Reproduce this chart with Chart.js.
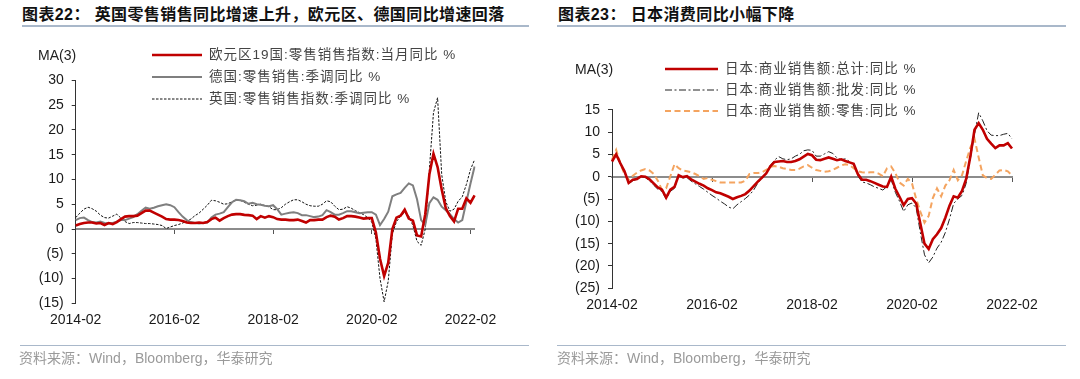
<!DOCTYPE html>
<html><head><meta charset="utf-8">
<script src="https://cdn.jsdelivr.net/npm/chart.js@4/dist/chart.umd.min.js"></script>
<style>
html,body{margin:0;padding:0;background:#fff;}
#root{position:relative;width:1080px;height:379px;overflow:hidden;}
.title{position:absolute;top:5px;font:bold 16px/20px "Liberation Sans","Noto Sans CJK SC",sans-serif;color:#111;white-space:nowrap;letter-spacing:0.4px;}
.rule{position:absolute;height:2px;background:#A9B8CA;}
.foot{position:absolute;top:349px;font:14px/18px "Liberation Sans","Noto Sans CJK SC",sans-serif;color:#9a9a9a;white-space:nowrap;}
.ma{position:absolute;font:14px/16px "Liberation Sans",Arial,sans-serif;color:#222;white-space:nowrap;}
.leg{position:absolute;height:18px;font:13.5px/18px "Liberation Sans","Noto Sans CJK SC",sans-serif;color:#444;white-space:nowrap;letter-spacing:1px;}
.leg svg{position:absolute;left:0;top:0;}
.leg span{position:absolute;top:0;}
canvas{position:absolute;top:0;}
</style></head>
<body>
<div id="root">
  <div class="title" style="left:22px;">图表22：&nbsp;英国零售销售同比增速上升，欧元区、德国同比增速回落</div>
  <div class="rule" style="left:22px;top:25px;width:507px;"></div>
  <div class="title" style="left:558px;">图表23：&nbsp;日本消费同比小幅下降</div>
  <div class="rule" style="left:557px;top:25px;width:509px;"></div>

  <canvas id="c1" width="540" height="379" style="left:0;"></canvas>
  <canvas id="c2" width="540" height="379" style="left:540px;"></canvas>

  <div class="ma" style="left:38px;top:47px;">MA(3)</div>
  <div class="ma" style="left:575px;top:61px;">MA(3)</div>

  <div id="legL"></div>
  <div id="legR"></div>

  <div class="rule" style="left:20px;top:345px;width:509px;height:1px;"></div>
  <div class="foot" style="left:19px;">资料来源：Wind，Bloomberg，华泰研究</div>
  <div class="rule" style="left:557px;top:345px;width:509px;height:1px;"></div>
  <div class="foot" style="left:557px;">资料来源：Wind，Bloomberg，华泰研究</div>
</div>
<script>
// ---------- categories ----------
const allMonths = [];
for (let y = 2014; y <= 2022; y++) for (let m = 1; m <= 12; m++) allMonths.push(y + '-' + String(m).padStart(2, '0'));
const leftMonths = allMonths.slice(allMonths.indexOf('2014-02'), allMonths.indexOf('2022-03') + 1);
const rightMonths = allMonths.slice(allMonths.indexOf('2014-02'), allMonths.indexOf('2022-02') + 1);
const xTickLabels = ['2014-02', '2016-02', '2018-02', '2020-02', '2022-02'];

// ---------- left chart series (MA3, %) ----------
const euroArea = [
  0.7, 1.0, 1.2, 1.3, 1.3, 1.1, 1.2, 0.8, 1.2, 1.0, 1.4, 2.0,
  2.5, 2.6, 2.6, 2.7, 3.2, 3.7, 3.7, 3.3, 2.9, 2.5, 2.0, 1.9,
  1.9, 1.8, 1.6, 1.3, 1.2, 1.2, 1.3, 1.2, 1.4, 2.0, 2.3, 1.7,
  2.2, 2.6, 2.9, 3.0, 3.0, 2.85, 2.8, 2.7, 2.0, 2.6, 2.3, 2.6,
  2.4, 2.0, 1.9, 1.9, 1.8, 1.8, 1.9, 1.6, 1.3, 1.8, 1.8, 1.9,
  1.9, 2.4, 2.7, 2.5, 1.9, 2.2, 2.6, 2.6, 2.5, 2.3, 2.1, 2.2,
  2.2, -0.7, -6.0, -9.5, -6.8, 0.0, 2.3, 2.7, 3.9, 2.1, 1.7, -1.3,
  -1.5, 3.0, 11.0, 15.2, 12.5, 8.0, 4.2, 2.6, 1.5, 4.1, 4.1, 6.2, 5.3, 6.8
];
const germany = [
  1.8, 2.2, 2.3, 1.8, 1.4, 1.3, 1.5, 1.2, 1.1, 1.2, 1.5, 1.8,
  1.8, 2.1, 2.4, 3.0, 3.7, 4.3, 4.1, 4.3, 4.6, 4.8, 5.0, 4.8,
  4.4, 3.4, 2.5, 1.8, 1.4, 1.2, 1.1, 1.2, 1.3, 2.3, 2.9, 3.1,
  3.4, 4.4, 5.4, 5.9, 5.8, 5.6, 5.1, 5.3, 5.0, 4.9, 4.7, 4.6,
  4.8, 4.0, 2.9, 3.1, 3.3, 3.4, 3.2, 2.8, 2.8, 2.6, 2.4, 2.5,
  2.8, 3.8, 3.4, 2.9, 2.9, 3.2, 3.6, 3.6, 3.4, 3.2, 3.3, 3.4,
  3.4, 2.9, 0.8, 2.0, 3.5, 6.6, 7.0, 7.3, 8.3, 9.2, 8.8, 6.0,
  1.8, 0.8, 5.2, 6.4, 5.9, 4.5, 3.8, 3.0, 2.0, 1.3, 1.8, 5.5, 9.2, 12.6
];
const uk = [
  2.3, 3.2, 4.0, 4.4, 4.1, 3.6, 2.8, 2.3, 2.2, 2.6, 3.0, 2.2,
  1.5, 1.1, 1.3, 1.3, 1.2, 1.1, 1.1, 1.0, 0.9, 0.7, 0.1, 0.4,
  0.7, 0.9, 1.2, 1.6, 2.0, 2.7, 3.2, 4.0, 4.8, 5.8, 5.7, 5.4,
  5.0, 5.1, 5.5, 5.8, 5.8, 5.4, 5.0, 4.7, 4.8, 5.0, 4.7, 4.5,
  3.9, 3.9, 4.3, 5.0, 5.5, 5.9, 5.9, 5.5, 5.0, 4.7, 4.6, 4.6,
  5.0, 5.7, 5.5, 4.6, 3.9, 4.0, 4.5, 4.2, 3.7, 3.3, 2.9, 2.3,
  1.4, -2.0, -10.0, -14.7, -10.5, -1.0, 1.5, 2.6, 3.3, 2.6, 0.7, -2.5,
  -3.3, 0.0, 12.0, 23.5, 26.5, 11.0, 5.5, 3.6, 4.0, 5.6, 6.5, 9.0, 12.0, 14.0
];

// ---------- right chart series (MA3, %) ----------
const jpTotal = [
  3.4, 5.0, 3.0, 1.2, -1.4, -0.7, -0.5, 0.1, 0.0, -0.6, -1.5, -2.4,
  -2.9, -4.7, -2.9, -2.3, 0.3, -0.1, 0.1, -0.6, -1.1, -1.6, -2.0, -2.6,
  -3.0, -3.5, -3.7, -4.1, -4.5, -5.0, -4.6, -4.3, -3.9, -3.1, -2.1, -1.1,
  -0.2, 0.7, 2.3, 3.3, 3.4, 3.5, 3.3, 3.3, 3.5, 3.9, 4.5, 5.1,
  4.8, 3.8, 3.7, 4.0, 4.3, 4.0, 3.7, 3.9, 3.5, 3.2, 2.9, 0.6,
  -0.7, -0.7, -1.0, -1.4, -1.8, -2.2, -2.3, 0.0, -2.7, -4.5, -6.4, -5.0,
  -4.8, -6.0, -10.5, -15.0, -16.2, -14.0, -12.9, -11.5, -9.2, -6.5, -4.4, -4.7,
  -3.2, -0.5, 4.5, 10.5, 12.0, 10.5, 8.5, 7.4, 6.4, 7.0, 7.0, 7.5, 6.3
];
const jpWholesale = [
  3.3, 5.0, 2.8, 1.0, -1.6, -0.9, -0.6, 0.0, -0.2, -0.9, -1.9, -2.8,
  -3.3, -5.0, -3.3, -2.6, 0.2, -0.3, -0.2, -1.0, -1.6, -2.2, -2.8, -3.5,
  -4.2, -4.8, -5.5, -6.1, -6.8, -7.2, -6.3, -5.6, -4.9, -4.1, -3.0, -1.4,
  -0.4, 0.8, 2.5, 3.7, 4.5, 4.0, 3.8, 4.0, 4.6, 5.0, 5.8, 6.0,
  5.9, 4.6, 4.6, 5.1, 5.6, 5.2, 4.2, 3.8, 4.0, 3.4, 2.7, 0.2,
  -1.2, -1.4, -1.8, -2.3, -2.6, -3.0, -2.2, -0.7, -3.5, -5.5, -7.8, -6.3,
  -5.9, -7.0, -12.5, -17.5, -19.3, -18.0, -16.0, -14.7, -12.5, -9.5, -6.0, -5.0,
  -4.2, -1.5, 4.0, 9.5, 14.3, 12.5, 10.3, 9.3, 9.2, 9.2, 9.5, 9.7, 8.5
];
const jpRetail = [
  3.8, 6.0, 3.0, 0.5, -0.6, 0.2, 0.9, 1.4, 1.7, 1.4, 0.6, -0.9,
  -3.0, -2.6, 0.1, 2.8, 1.9, 1.4, 1.2, 1.0, 0.6, 0.1, -0.5, -0.3,
  -0.7, -1.0, -1.3, -1.3, -1.3, -1.3, -1.3, -1.3, -0.9, 0.6, 0.8, 0.8,
  1.0, 1.5, 2.2, 2.4, 2.2, 1.9, 1.7, 1.5, 1.5, 1.8, 2.3, 2.6,
  2.0, 1.5, 1.3, 1.1, 1.2, 1.5, 2.0, 2.5, 2.8, 2.6, 1.9, 1.2,
  1.0, 0.9, 1.0, 1.0, 0.7, 0.1, 1.9, 2.3, 0.8, -1.3, -2.0, -0.5,
  -1.5, -5.0, -7.8, -10.3, -8.8, -4.8, -2.6, -4.4, -2.0, -0.8, 1.5, -0.8,
  0.3, 3.5, 6.5, 8.5, 4.3, 0.3, -0.3, -0.5, 0.4, 1.4, 1.5, 1.2, 0.3
];

const leftNames = ['欧元区19国:零售销售指数:当月同比 %', '德国:零售销售:季调同比 %', '英国:零售销售指数:季调同比 %'];
const rightNames = ['日本:商业销售额:总计:同比 %', '日本:商业销售额:批发:同比 %', '日本:商业销售额:零售:同比 %'];

const leftYTicks = { min: -15, max: 30, step: 5 };
const rightYTicks = { min: -25, max: 15, step: 5 };

const styles = {
  euro: { color: '#C00000', width: 2.6, dash: [] },
  ger: { color: '#7f7f7f', width: 2, dash: [] },
  uk: { color: '#111111', width: 1, dash: [2.5, 1.5] },
  tot: { color: '#C00000', width: 2.6, dash: [] },
  whs: { color: '#222222', width: 1, dash: [7, 2.5, 2, 2.5] },
  ret: { color: '#F4A460', width: 2, dash: [6, 3.5] }
};

function ds(label, data, st) {
  return { label, data, xAxisID: 'x', yAxisID: 'y', borderColor: st.color, backgroundColor: st.color,
    borderWidth: st.width, borderDash: st.dash, pointRadius: 0, tension: 0, fill: false };
}

const tickFont = { family: 'Liberation Sans', size: 14 };

function build(id, cats, datasets, yt, pad, yWidth) {
  return new Chart(document.getElementById(id), {
    type: 'line',
    data: { labels: cats, datasets },
    options: {
      responsive: false, animation: false, devicePixelRatio: 1,
      layout: { padding: pad },
      plugins: { legend: { display: false }, tooltip: { enabled: false } },
      scales: {
        x: {
          type: 'category', position: 'bottom',
          grid: { display: false, drawTicks: false }, border: { display: false },
          ticks: { autoSkip: false, maxRotation: 0, minRotation: 0, padding: 8, color: '#1a1a1a', font: tickFont,
            callback: (v, i) => xTickLabels.includes(cats[i]) ? cats[i] : '' },
          afterFit: s => { s.height = 30; }
        },
        x2: {
          type: 'category', position: { y: 0 },
          grid: { drawOnChartArea: false, drawTicks: true, tickLength: 4, lineWidth: 1,
            color: c => xTickLabels.includes(cats[c.index]) ? '#555555' : 'rgba(0,0,0,0)' },
          border: { display: true, color: '#8c8c8c', width: 2 },
          ticks: { display: false, autoSkip: false }
        },
        y: {
          min: yt.min, max: yt.max, position: 'left',
          grid: { drawOnChartArea: false, drawTicks: true, tickLength: 4, color: '#333333' },
          border: { display: true, color: '#333333', width: 1 },
          ticks: { stepSize: yt.step, padding: 8, color: '#1a1a1a', font: tickFont,
            callback: v => v < 0 ? '(' + (-v) + ')' : String(v) },
          afterFit: s => { s.width = yWidth; }
        }
      }
    }
  });
}

build('c1', leftMonths, [
  ds(leftNames[0], euroArea, styles.euro),
  ds(leftNames[1], germany, styles.ger),
  ds(leftNames[2], uk, styles.uk)
], leftYTicks, { left: 0, top: 80.4, right: 65.4, bottom: 45.7 }, 75.7);

build('c2', rightMonths, [
  ds(rightNames[0], jpTotal, styles.tot),
  ds(rightNames[1], jpWholesale, styles.whs),
  ds(rightNames[2], jpRetail, styles.ret)
], rightYTicks, { left: 0, top: 109.7, right: 68, bottom: 60.7 }, 72);

// ---------- legends (HTML) ----------
function legend(containerId, names, sts, x0, lineLen, textX, rowsY) {
  const box = document.getElementById(containerId);
  names.forEach((n, i) => {
    const st = sts[i];
    const row = document.createElement('div');
    row.className = 'leg';
    row.style.left = x0 + 'px';
    row.style.top = (rowsY[i] - 9) + 'px';
    row.style.width = '400px';
    const svgNS = 'http://www.w3.org/2000/svg';
    const svg = document.createElementNS(svgNS, 'svg');
    svg.setAttribute('width', lineLen); svg.setAttribute('height', 18);
    const ln = document.createElementNS(svgNS, 'line');
    ln.setAttribute('x1', 0); ln.setAttribute('x2', lineLen);
    ln.setAttribute('y1', 9); ln.setAttribute('y2', 9);
    ln.setAttribute('stroke', st.color); ln.setAttribute('stroke-width', st.width);
    if (st.dash.length) ln.setAttribute('stroke-dasharray', st.dash.join(' '));
    svg.appendChild(ln);
    row.appendChild(svg);
    const sp = document.createElement('span');
    sp.style.left = (textX - x0) + 'px';
    sp.textContent = n;
    row.appendChild(sp);
    box.appendChild(row);
  });
}
legend('legL', leftNames, [styles.euro, styles.ger, styles.uk], 152, 50, 209, [55, 77, 99]);
legend('legR', rightNames, [styles.tot, styles.whs, styles.ret], 665, 53, 725, [69, 90, 111]);
</script>
</body></html>
